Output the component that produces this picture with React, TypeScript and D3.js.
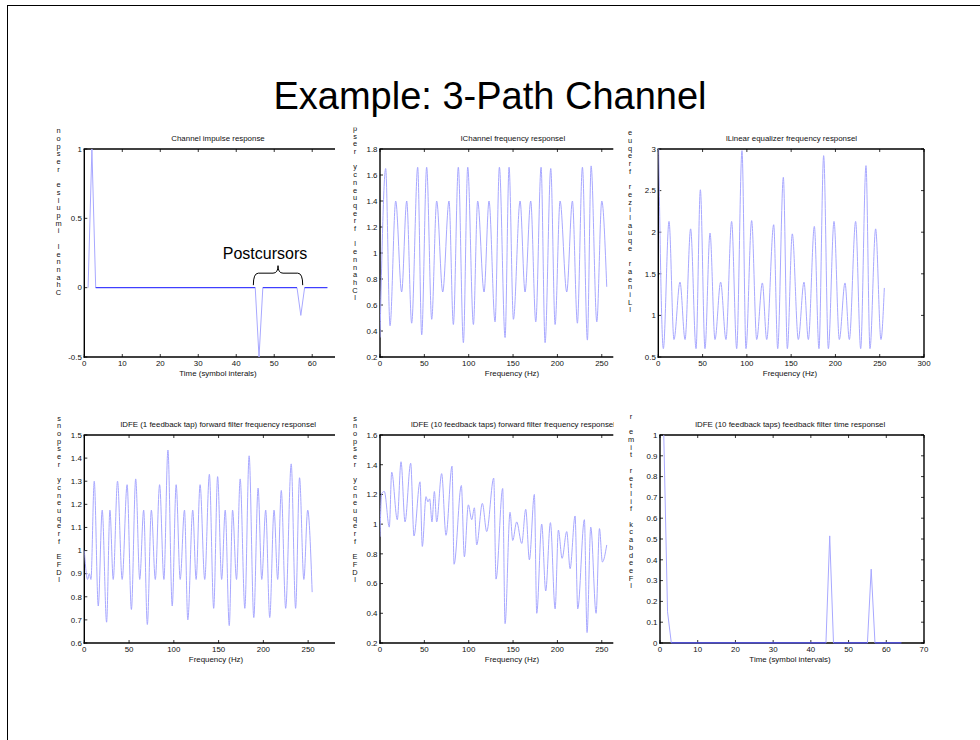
import React from "react";
import * as d3 from "d3";

const FONT = "'Liberation Sans', Arial, Helvetica, sans-serif";
const LINE = "#a8a8ff";
const FLAT = "#2a2aff";

const mainTitle = "Example: 3-Path Channel";

// ---- Panel 1: channel impulse response
const impulseTime = [1, 2, 3, 45, 46, 47, 56, 57, 58, 64];
const impulseValue = [0, 1, 0, 0, -0.5, 0, 0, -0.2, 0, 0];
const p1XTicks = [0, 10, 20, 30, 40, 50, 60];
const p1YTicks = [-0.5, 0, 0.5, 1];

// ---- Panel 2: |Channel frequency response| (local extrema)
const chanFreq = [0, 6.4, 11.3, 17.7, 24.4, 30.1, 35.7, 42.5, 47.0, 52.6, 58.3, 63.9, 70.7, 77.8, 82.7, 88.3, 94.0, 98.9, 105.3, 110.1, 117.3, 122.9, 129.7, 134.6, 141.0, 145.5, 150.4, 157.9, 163.5, 169.9, 175.6, 181.6, 186.1, 192.5, 197.4, 203.0, 210.5, 216.9, 222.5, 228.2, 233.8, 238.0, 244.4, 250.0, 255.6];
const chanMag = [0.35, 1.65, 0.44, 1.40, 0.70, 1.40, 0.46, 1.66, 0.37, 1.66, 0.49, 1.40, 0.70, 1.40, 0.45, 1.66, 0.31, 1.66, 0.45, 1.40, 0.70, 1.40, 0.47, 1.66, 0.35, 1.66, 0.49, 1.40, 0.70, 1.40, 0.47, 1.66, 0.31, 1.65, 0.45, 1.40, 0.70, 1.40, 0.46, 1.66, 0.33, 1.67, 0.47, 1.40, 0.74];
const p2XTicks = [0, 50, 100, 150, 200, 250];
const p2YTicks = [0.2, 0.4, 0.6, 0.8, 1, 1.2, 1.4, 1.6, 1.8];

// ---- Panel 3: |Linear equalizer frequency response|
const eqFreq = [0, 5.7, 12.1, 17.7, 24.5, 30.2, 36.5, 42.6, 47.5, 52.7, 58.4, 64.0, 70.4, 76.4, 82.8, 88.5, 94.5, 99.0, 105.4, 111.1, 117.5, 122.4, 130.3, 134.8, 141.2, 145.7, 151.3, 158.1, 164.5, 169.4, 176.2, 181.4, 186.7, 192.0, 198.4, 204.4, 210.8, 215.7, 222.8, 228.5, 234.5, 239.0, 245.4, 251.4, 255.2];
const eqMag = [3.3, 0.60, 2.13, 0.71, 1.40, 0.71, 2.04, 0.60, 2.51, 0.60, 1.99, 0.71, 1.40, 0.71, 2.13, 0.60, 2.98, 0.60, 2.14, 0.71, 1.39, 0.71, 2.09, 0.60, 2.66, 0.60, 1.98, 0.71, 1.40, 0.71, 2.07, 0.60, 2.92, 0.60, 2.13, 0.71, 1.39, 0.71, 2.13, 0.60, 2.80, 0.60, 2.04, 0.71, 1.33];
const p3XTicks = [0, 50, 100, 150, 200, 250, 300];
const p3YTicks = [0.5, 1, 1.5, 2, 2.5, 3];

// ---- Panel 4: |DFE (1 feedback tap) forward filter frequency response|
const dfe1Freq = [0, 3.7, 5.6, 7.4, 11.1, 15.6, 20.0, 24.9, 28.6, 32.3, 37.1, 42.3, 47.8, 52.6, 57.4, 61.9, 66.3, 70.4, 74.9, 79.3, 84.1, 88.9, 93.4, 98.2, 102.6, 107.1, 111.9, 115.6, 121.1, 124.9, 129.3, 134.5, 139.7, 144.5, 148.9, 153.4, 157.4, 161.9, 165.6, 170.0, 174.1, 179.3, 184.1, 189.3, 194.1, 198.2, 202.6, 207.1, 211.9, 216.0, 220.0, 224.9, 231.1, 236.0, 240.4, 245.2, 249.5, 254.5];
const dfe1Mag = [1.0, 0.875, 0.9, 0.875, 1.30, 0.76, 1.175, 0.69, 1.175, 0.875, 1.30, 0.875, 1.285, 0.745, 1.31, 0.875, 1.175, 0.68, 1.175, 0.875, 1.285, 0.875, 1.435, 0.76, 1.285, 0.875, 1.175, 0.70, 1.175, 0.875, 1.285, 0.875, 1.33, 0.75, 1.32, 0.875, 1.175, 0.675, 1.175, 0.875, 1.31, 0.75, 1.41, 0.71, 1.27, 0.875, 1.175, 0.71, 1.175, 0.875, 1.26, 0.75, 1.375, 0.75, 1.315, 0.875, 1.175, 0.82];
const p4XTicks = [0, 50, 100, 150, 200, 250];
const p4YTicks = [0.6, 0.7, 0.8, 0.9, 1, 1.1, 1.2, 1.3, 1.4, 1.5];

// ---- Panel 5: |DFE (10 feedback taps) forward filter frequency response|
const dfe10Freq = [0, 1.9, 4.9, 10.5, 13.2, 19.5, 23.7, 28.2, 34.6, 38.3, 45.1, 47.7, 51.9, 54.0, 56.0, 58.6, 61.3, 63.9, 69.5, 74.4, 81.2, 83.5, 91.7, 95.1, 99.6, 103.4, 106.4, 109.0, 115.4, 120.3, 128.2, 130.8, 138.3, 141.0, 146.6, 149.6, 154.1, 159.8, 164.3, 168.4, 174.0, 176.7, 182.3, 186.8, 192.1, 197.4, 201.1, 205.3, 210.5, 214.3, 219.9, 222.9, 230.4, 233.4, 237.6, 243.6, 247.4, 250.7, 255.6];
const dfe10Mag = [0.915, 1.207, 1.22, 0.98, 1.35, 1.03, 1.42, 1.015, 1.41, 0.92, 1.285, 0.85, 1.185, 1.15, 1.17, 1.015, 1.22, 1.015, 1.34, 0.925, 1.39, 0.73, 1.26, 0.78, 1.13, 1.03, 1.11, 0.86, 1.14, 0.95, 1.31, 0.63, 1.24, 0.33, 1.08, 0.89, 1.015, 0.87, 1.10, 0.76, 1.20, 0.40, 1.00, 0.55, 1.01, 0.43, 0.96, 0.77, 0.95, 0.70, 1.055, 0.43, 1.03, 0.27, 0.98, 0.40, 0.97, 0.745, 0.86];
const p5XTicks = [0, 50, 100, 150, 200, 250];
const p5YTicks = [0.2, 0.4, 0.6, 0.8, 1, 1.2, 1.4, 1.6];

// ---- Panel 6: DFE (10 feedback taps) feedback filter time response
const fbTime = [1, 2, 3, 44, 45, 46, 55, 56, 57, 64];
const fbValue = [1, 0.15, 0, 0, 0.515, 0, 0, 0.355, 0, 0];
const p6XTicks = [0, 10, 20, 30, 40, 50, 60, 70];
const p6YTicks = [0, 0.1, 0.2, 0.3, 0.4, 0.5, 0.6, 0.7, 0.8, 0.9, 1];

type PanelDef = {
  id: string;
  left: number; right: number; top: number; bottom: number;
  cropRight: number;
  xDomain: [number, number]; yDomain: [number, number];
  xTicks: number[]; yTicks: number[];
  box: boolean;
  title: string; titleX: number;
  xLabel: string; xLabelX: number;
  yLabel: string; yLabelX: number; yLabelBottom: number; yLabelClipTop: number;
  xs: number[]; ys: number[];
  curve: d3.CurveFactory;
};

const panels: PanelDef[] = [
  {
    id: "p1", left: 84.3, right: 335, top: 149, bottom: 357, cropRight: 336,
    xDomain: [0, 66], yDomain: [-0.5, 1], xTicks: p1XTicks, yTicks: p1YTicks, box: false,
    title: "Channel impulse response", titleX: 218,
    xLabel: "Time (symbol interals)", xLabelX: 218,
    yLabel: "Channel impulse response", yLabelX: 58.5, yLabelBottom: 292.7, yLabelClipTop: 127.5,
    xs: impulseTime, ys: impulseValue, curve: d3.curveLinear,
  },
  {
    id: "p2", left: 380, right: 613.3, top: 149, bottom: 357, cropRight: 614,
    xDomain: [0, 263], yDomain: [0.2, 1.8], xTicks: p2XTicks, yTicks: p2YTicks, box: false,
    title: "lChannel frequency responsel", titleX: 513,
    xLabel: "Frequency (Hz)", xLabelX: 512,
    yLabel: "lChannel frequency responsel", yLabelX: 355, yLabelBottom: 298, yLabelClipTop: 127.5,
    xs: chanFreq, ys: chanMag, curve: d3.curveMonotoneX,
  },
  {
    id: "p3", left: 658.3, right: 924, top: 149, bottom: 357, cropRight: 980,
    xDomain: [0, 300], yDomain: [0.5, 3], xTicks: p3XTicks, yTicks: p3YTicks, box: true,
    title: "lLinear equalizer frequency responsel", titleX: 791.5,
    xLabel: "Frequency (Hz)", xLabelX: 790,
    yLabel: "lLinear equalizer frequency responsel", yLabelX: 630, yLabelBottom: 310, yLabelClipTop: 127.5,
    xs: eqFreq, ys: eqMag, curve: d3.curveMonotoneX,
  },
  {
    id: "p4", left: 84.3, right: 335, top: 435, bottom: 643, cropRight: 336,
    xDomain: [0, 280], yDomain: [0.6, 1.5], xTicks: p4XTicks, yTicks: p4YTicks, box: false,
    title: "lDFE (1 feedback tap) forward filter frequency responsel", titleX: 218.3,
    xLabel: "Frequency (Hz)", xLabelX: 216,
    yLabel: "lDFE frequency response", yLabelX: 59, yLabelBottom: 580, yLabelClipTop: 415,
    xs: dfe1Freq, ys: dfe1Mag, curve: d3.curveMonotoneX,
  },
  {
    id: "p5", left: 380, right: 613.3, top: 435, bottom: 643, cropRight: 614,
    xDomain: [0, 263], yDomain: [0.2, 1.6], xTicks: p5XTicks, yTicks: p5YTicks, box: false,
    title: "lDFE (10 feedback taps) forward filter frequency responsel", titleX: 513,
    xLabel: "Frequency (Hz)", xLabelX: 512,
    yLabel: "lDFE frequency response", yLabelX: 355, yLabelBottom: 580, yLabelClipTop: 415,
    xs: dfe10Freq, ys: dfe10Mag, curve: d3.curveMonotoneX,
  },
  {
    id: "p6", left: 660, right: 924, top: 435, bottom: 643, cropRight: 980,
    xDomain: [0, 70], yDomain: [0, 1], xTicks: p6XTicks, yTicks: p6YTicks, box: true,
    title: "lDFE (10 feedback taps) feedback filter time responsel", titleX: 790.3,
    xLabel: "Time (symbol intervals)", xLabelX: 790,
    yLabel: "lFeedback filter time responsel", yLabelX: 631, yLabelBottom: 586, yLabelClipTop: 415,
    xs: fbTime, ys: fbValue, curve: d3.curveLinear,
  },
];

const LABEL_STEP = 7.7;
const TICK = 3;

function Panel({ d }: { d: PanelDef }) {
  const x = d3.scaleLinear().domain(d.xDomain).range([d.left, d.right]);
  const y = d3.scaleLinear().domain(d.yDomain).range([d.bottom, d.top]);
  const pts = d.xs.map((v, i) => [v, d.ys[i]] as [number, number]);
  const line = d3.line<[number, number]>().x((p) => x(p[0])).y((p) => y(p[1])).curve(d.curve);
  const flats: [number, number, number][] = [];
  if (d.curve === d3.curveLinear) {
    for (let i = 0; i < d.xs.length - 1; i++) {
      if (d.ys[i] === d.ys[i + 1]) flats.push([d.xs[i], d.xs[i + 1], d.ys[i]]);
    }
  }
  // vertical, reversed y-label: one character per line, cut off at the top of the figure
  const chars = d.yLabel.split("").reverse();
  const n = chars.length;
  const labelChars = chars
    .map((c, i) => ({ c, i, cy: d.yLabelBottom - (n - 1 - i) * LABEL_STEP }))
    .filter((o) => o.cy > d.yLabelClipTop - 2 && o.c !== " ");
  return (
    <g>
      <defs>
        <clipPath id={`plot-${d.id}`}>
          <rect x={d.left} y={d.top - 0.5} width={d.right - d.left} height={d.bottom - d.top + 1} />
        </clipPath>
        <clipPath id={`crop-${d.id}`}>
          <rect x={0} y={0} width={d.cropRight} height={740} />
        </clipPath>
        <clipPath id={`yl-${d.id}`}>
          <rect x={0} y={d.yLabelClipTop} width={980} height={740} />
        </clipPath>
      </defs>
      <g clipPath={`url(#crop-${d.id})`} fontFamily={FONT} fill="#111">
        <text x={d.titleX} y={d.top - 8} fontSize={7.9} textAnchor="middle">{d.title}</text>
      </g>
      <g stroke="#000" strokeWidth={1.4} fill="none">
        <line x1={d.left} x2={d.left} y1={d.top} y2={d.bottom + 0.7} />
        <line x1={d.left - 0.7} x2={d.right} y1={d.bottom} y2={d.bottom} />
        <line x1={d.left - 0.7} x2={d.right} y1={d.top} y2={d.top} />
        {d.box && <line x1={d.right} x2={d.right} y1={d.top} y2={d.bottom + 0.7} />}
      </g>
      <g stroke="#000" strokeWidth={0.8}>
        {d.xTicks.map((t) => (
          <g key={`xt${t}`}>
            <line x1={x(t)} x2={x(t)} y1={d.bottom} y2={d.bottom - TICK} />
            <line x1={x(t)} x2={x(t)} y1={d.top} y2={d.top + TICK} />
          </g>
        ))}
        {d.yTicks.map((t) => (
          <g key={`yt${t}`}>
            <line x1={d.left} x2={d.left + TICK} y1={y(t)} y2={y(t)} />
            {d.box && <line x1={d.right} x2={d.right - TICK} y1={y(t)} y2={y(t)} />}
          </g>
        ))}
      </g>
      <g fontFamily={FONT} fontSize={7.9} fill="#111">
        {d.xTicks.map((t) => (
          <text key={`xl${t}`} x={x(t)} y={d.bottom + 9} textAnchor="middle">{String(t)}</text>
        ))}
        {d.yTicks.map((t) => (
          <text key={`yl${t}`} x={d.left - 2.5} y={y(t) + 2.8} textAnchor="end">{String(t)}</text>
        ))}
        <text x={d.xLabelX} y={d.bottom + 18.5} textAnchor="middle">{d.xLabel}</text>
      </g>
      <g clipPath={`url(#yl-${d.id})`}>
        <text fontFamily={FONT} fontSize={7.4} fill="#111" textAnchor="middle">
          {labelChars.map((o) => (
            <tspan key={o.i} x={d.yLabelX} y={o.cy + 2.3}>{o.c}</tspan>
          ))}
        </text>
      </g>
      <g clipPath={`url(#plot-${d.id})`} fill="none">
        <path d={line(pts) || ""} stroke={LINE} strokeWidth={1} />
        {flats.map(([a, b, v], i) => (
          <line key={i} x1={x(a)} x2={x(b)} y1={y(v)} y2={y(v)} stroke={FLAT} strokeWidth={1} />
        ))}
      </g>
      {d.id === "p1" && (
        <g>
          <text x={(x(44.5) + x(57.5)) / 2 - 13} y={y(0) - 29} fontFamily={FONT} fontSize={16} textAnchor="middle" fill="#000">
            Postcursors
          </text>
          <path
            d={(() => {
              const l = x(44.5), r = x(57.5), m = (l + r) / 2;
              const yb = y(0) - 2.5, yh = y(0) - 14.5, yt = y(0) - 22;
              return `M${l},${yb} Q${l},${yh} ${l + 5},${yh} L${m - 5},${yh} Q${m},${yh} ${m},${yt} Q${m},${yh} ${m + 5},${yh} L${r - 5},${yh} Q${r},${yh} ${r},${yb}`;
            })()}
            fill="none"
            stroke="#000"
            strokeWidth={1}
          />
        </g>
      )}
    </g>
  );
}

export default function App() {
  return (
    <svg
      width={980}
      height={740}
      viewBox="0 0 980 740"
      style={{ position: "absolute", left: 0, top: 0, background: "#fff" }}
    >
      <rect x={0} y={0} width={980} height={740} fill="#fff" />
      <rect x={7.5} y={5.5} width={1000} height={800} fill="none" stroke="#000" strokeWidth={1} />
      <text x={490} y={109} fontFamily={FONT} fontSize={38} textAnchor="middle" fill="#000">
        {mainTitle}
      </text>
      {panels.map((p) => (
        <Panel key={p.id} d={p} />
      ))}
    </svg>
  );
}
